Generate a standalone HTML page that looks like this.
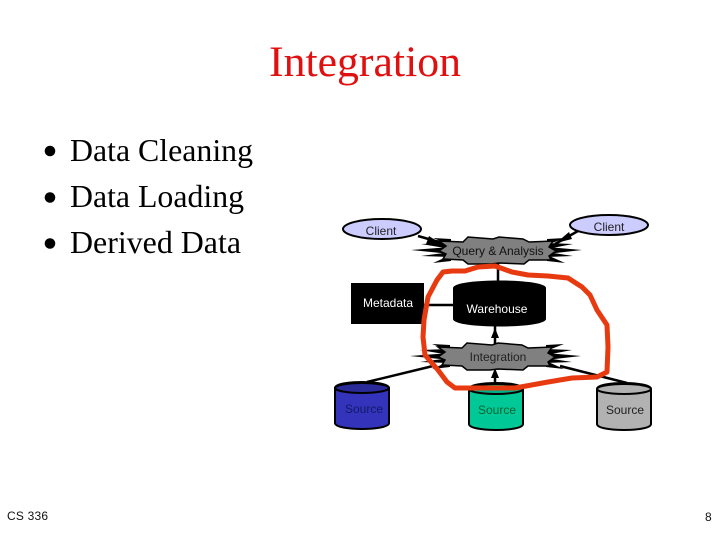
<!DOCTYPE html>
<html>
<head>
<meta charset="utf-8">
<style>
html,body{margin:0;padding:0;background:#fff;width:720px;height:540px;overflow:hidden}
svg{display:block}
.s{font-family:"Liberation Serif",serif}
.a{font-family:"Liberation Sans",sans-serif;font-size:12px}
</style>
</head>
<body>
<svg width="720" height="540" viewBox="0 0 720 540" xmlns="http://www.w3.org/2000/svg">
<rect width="720" height="540" fill="#fff"/>
<text class="s" x="365" y="76" text-anchor="middle" font-size="43" fill="#e01010" textLength="192" lengthAdjust="spacingAndGlyphs">Integration</text>
<circle cx="50" cy="151" r="5.3" fill="#000"/>
<circle cx="50" cy="197.5" r="5.3" fill="#000"/>
<circle cx="50" cy="243.5" r="5.3" fill="#000"/>
<text class="s" x="70" y="161" font-size="32" fill="#000" textLength="183" lengthAdjust="spacingAndGlyphs">Data Cleaning</text>
<text class="s" x="70" y="207" font-size="32" fill="#000" textLength="174" lengthAdjust="spacingAndGlyphs">Data Loading</text>
<text class="s" x="70" y="253" font-size="32" fill="#000" textLength="171" lengthAdjust="spacingAndGlyphs">Derived Data</text>
<text class="a" x="7" y="520" fill="#111" textLength="41" lengthAdjust="spacing">CS 336</text>
<text class="a" x="705" y="521" fill="#111">8</text>

<g stroke="#000" stroke-width="2.5" fill="none">
<line x1="418" y1="236" x2="446" y2="244"/>
<line x1="578" y1="231" x2="555" y2="244"/>
<line x1="498" y1="262" x2="498" y2="283"/>
<line x1="424" y1="305" x2="455" y2="305"/>
<line x1="495" y1="325" x2="495" y2="345"/>
<line x1="367" y1="382" x2="433" y2="366"/>
<line x1="495" y1="372" x2="495" y2="385"/>
<line x1="627" y1="383" x2="560" y2="366"/>
</g>
<polygon points="441,244 429,236 426,244" fill="#000"/>
<polygon points="556,243 569,232 572,239" fill="#000"/>
<polygon points="495,328 491,338 499,338" fill="#000"/>
<polygon points="495,368 491,378 499,378" fill="#000"/>

<ellipse cx="382" cy="229" rx="39" ry="10" fill="#ccccff" stroke="#000" stroke-width="2"/>
<ellipse cx="609" cy="225" rx="39" ry="10" fill="#ccccff" stroke="#000" stroke-width="2"/>
<text class="a" x="381" y="235" text-anchor="middle" fill="#222">Client</text>
<text class="a" x="609" y="231" text-anchor="middle" fill="#222">Client</text>

<g transform="translate(1,-106)">
<path fill="#000" d="M450,345 L432,344 L450,351Z M450,349 L420,350 L450,355Z M450,353 L410,356 L450,360Z M450,358 L420,362 L450,363Z M450,361 L432,369 L450,367Z M546,345 L564,344 L546,351Z M546,349 L572,350 L546,355Z M546,353 L581,356 L546,360Z M546,358 L572,362 L546,363Z M546,361 L564,369 L546,367Z"/>
<polygon fill="#808080" stroke="#000" stroke-width="1.5" points="438,347 462,348 467,343 492,345 498,343 522,345 528,348 552,347 548,353 555,357 548,362 550,366 528,366 523,370 498,369 490,370 467,370 462,366 442,365 445,360 438,357 445,352"/>
</g>
<text class="a" x="498" y="255" text-anchor="middle" fill="#111">Query &amp; Analysis</text>

<rect x="351" y="283" width="73" height="41" fill="#000"/>
<text class="a" x="388" y="307" text-anchor="middle" fill="#fff">Metadata</text>
<path d="M453,288 C453,278 546,278 546,288 L546,319 C546,329 453,329 453,319 Z" fill="#000"/>
<text class="a" x="497" y="313" text-anchor="middle" fill="#fff">Warehouse</text>

<path fill="#000" d="M450,345 L432,344 L450,351Z M450,349 L420,350 L450,355Z M450,353 L410,356 L450,360Z M450,358 L420,362 L450,363Z M450,361 L432,369 L450,367Z M546,345 L564,344 L546,351Z M546,349 L572,350 L546,355Z M546,353 L581,356 L546,360Z M546,358 L572,362 L546,363Z M546,361 L564,369 L546,367Z"/>
<polygon fill="#808080" stroke="#000" stroke-width="1.5" points="438,347 462,348 467,343 492,345 498,343 522,345 528,348 552,347 548,353 555,357 548,362 550,366 528,366 523,370 498,369 490,370 467,370 462,366 442,365 445,360 438,357 445,352"/>
<text class="a" x="498" y="361" text-anchor="middle" fill="#222">Integration</text>

<g stroke="#000" stroke-width="2">
<path d="M335,388 C335,380 389,380 389,388 L389,423 C389,431 335,431 335,423 Z" fill="#3333bb"/>
<ellipse cx="362" cy="388" rx="27" ry="5" fill="#2a2a99"/>
<path d="M469,389 C469,381 523,381 523,389 L523,424 C523,432 469,432 469,424 Z" fill="#00c896"/>
<ellipse cx="496" cy="389" rx="27" ry="5" fill="#00b088"/>
<path d="M597,389 C597,381 651,381 651,389 L651,424 C651,432 597,432 597,424 Z" fill="#b2b2b2"/>
<ellipse cx="624" cy="389" rx="27" ry="5" fill="#b2b2b2"/>
</g>
<text class="a" x="364" y="413" text-anchor="middle" fill="#111a66">Source</text>
<text class="a" x="497" y="414" text-anchor="middle" fill="#063">Source</text>
<text class="a" x="625" y="414" text-anchor="middle" fill="#222">Source</text>

<path d="M443,272 L452,271 L465,271 L478,267 L495,266 L512,272 L528,275 L548,276 L568,278 L582,287 L590,295 L597,310 L607,325 L608,347 L607,372 L597,377 L572,378 L548,382 L515,388 L488,388 L455,388 L447,382 L438,370 L425,355 L423,337 L424,320 L428,297 L437,280 Z" fill="none" stroke="#e83a10" stroke-width="5" stroke-linejoin="round"/>
</svg>
</body>
</html>
